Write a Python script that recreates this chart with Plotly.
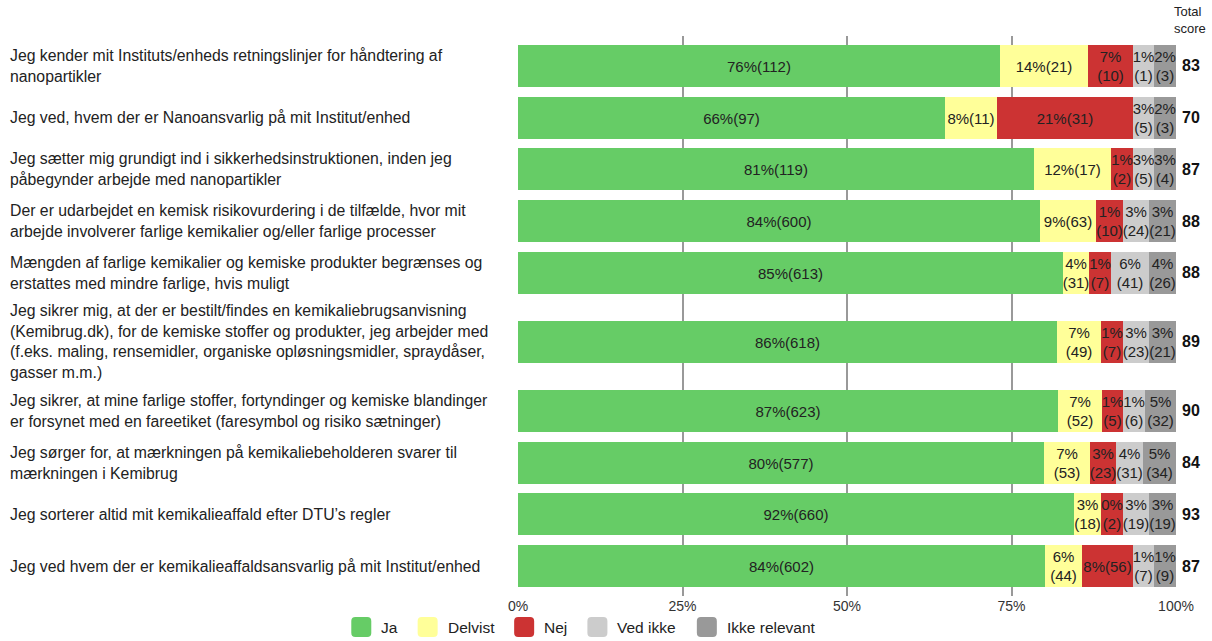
import plotly.graph_objects as go

# ---------------- data ----------------
questions = [
    "Jeg kender mit Instituts/enheds retningslinjer for håndtering af<br>nanopartikler",
    "Jeg ved, hvem der er Nanoansvarlig på mit Institut/enhed",
    "Jeg sætter mig grundigt ind i sikkerhedsinstruktionen, inden jeg<br>påbegynder arbejde med nanopartikler",
    "Der er udarbejdet en kemisk risikovurdering i de tilfælde, hvor mit<br>arbejde involverer farlige kemikalier og/eller farlige processer",
    "Mængden af farlige kemikalier og kemiske produkter begrænses og<br>erstattes med mindre farlige, hvis muligt",
    "Jeg sikrer mig, at der er bestilt/findes en kemikaliebrugsanvisning<br>(Kemibrug.dk), for de kemiske stoffer og produkter, jeg arbejder med<br>(f.eks. maling, rensemidler, organiske opløsningsmidler, spraydåser,<br>gasser m.m.)",
    "Jeg sikrer, at mine farlige stoffer, fortyndinger og kemiske blandinger<br>er forsynet med en fareetiket (faresymbol og risiko sætninger)",
    "Jeg sørger for, at mærkningen på kemikaliebeholderen svarer til<br>mærkningen i Kemibrug",
    "Jeg sorterer altid mit kemikalieaffald efter DTU’s regler",
    "Jeg ved hvem der er kemikalieaffaldsansvarlig på mit Institut/enhed",
]
categories = ["Ja", "Delvist", "Nej", "Ved ikke", "Ikke relevant"]
colors = ["#66cc66", "#ffff99", "#cc3333", "#cccccc", "#999999"]

ja_pct = [76, 66, 81, 84, 85, 86, 87, 80, 92, 84]
ja_n = [112, 97, 119, 600, 613, 618, 623, 577, 660, 602]
delvist_pct = [14, 8, 12, 9, 4, 7, 7, 7, 3, 6]
delvist_n = [21, 11, 17, 63, 31, 49, 52, 53, 18, 44]
nej_pct = [7, 21, 1, 1, 1, 1, 1, 3, 0, 8]
nej_n = [10, 31, 2, 10, 7, 7, 5, 23, 2, 56]
vedikke_pct = [1, 3, 3, 3, 6, 3, 1, 4, 3, 1]
vedikke_n = [1, 5, 5, 24, 41, 23, 6, 31, 19, 7]
ikke_pct = [2, 2, 3, 3, 4, 3, 5, 5, 3, 1]
ikke_n = [3, 3, 4, 21, 26, 21, 32, 34, 19, 9]
total_score = [83, 70, 87, 88, 88, 89, 90, 84, 93, 87]
tick_vals = [0, 25, 50, 75, 100]
tick_text = ["0%", "25%", "50%", "75%", "100%"]

# ---------------- layout helpers ----------------
FIG_W, FIG_H = 1212, 641
M_L, M_R, M_T, M_B = 518, 36, 36, 45
PW = FIG_W - M_L - M_R
PH = FIG_H - M_T - M_B
FONT = "Liberation Sans, Arial, sans-serif"
BAR_FS = 15
LBL_FS = 15.8
TXT = "#222222"

CW = {'%': 0.889, '(': 0.333, ')': 0.333, ' ': 0.278, 'a': .556, 'b': .556, 'c': .5,
      'd': .556, 'e': .556, 'f': .278, 'g': .556, 'h': .556, 'i': .222, 'j': .222,
      'k': .5, 'l': .222, 'm': .833, 'n': .556, 'o': .556, 'p': .556, 'r': .333,
      's': .5, 't': .278, 'u': .556, 'v': .5, 'D': .722, 'I': .278, 'J': .5,
      'N': .722, 'V': .667}


def tw(s, fs):
    return sum(CW.get(c, 0.556) for c in s) * fs


pct_cols = [ja_pct, delvist_pct, nej_pct, vedikke_pct, ikke_pct]
n_cols = [ja_n, delvist_n, nej_n, vedikke_n, ikke_n]
nrows = len(questions)

widths = [[0.0] * nrows for _ in categories]
texts = [[""] * nrows for _ in categories]
for r in range(nrows):
    pcts = [col[r] for col in pct_cols]
    ns = [col[r] for col in n_cols]
    mins = [max(tw(f"{p}%", BAR_FS), tw(f"({n})", BAR_FS)) / PW * 100 for p, n in zip(pcts, ns)]
    fixed = [False] * 5
    while True:
        free = 100 - sum(mins[i] for i in range(5) if fixed[i])
        tot = sum(pcts[i] for i in range(5) if not fixed[i])
        w = [mins[i] if fixed[i] else pcts[i] * free / tot for i in range(5)]
        newly = [i for i in range(5) if not fixed[i] and w[i] < mins[i] - 1e-9]
        if not newly:
            break
        for i in newly:
            fixed[i] = True
    for c in range(5):
        widths[c][r] = w[c]
        single = f"{pcts[c]}%({ns[c]})"
        if tw(single, BAR_FS) <= w[c] / 100 * PW:
            texts[c][r] = single
        else:
            texts[c][r] = f"{pcts[c]}%<br>({ns[c]})"

# row heights (in units of a normal row) from number of label lines
ROW_PX, LINE_PX = 52.0, 19.5
heights = [max(1.0, (q.count("<br>") + 1) * LINE_PX / ROW_PX + 9 / ROW_PX) for q in questions]
centers = []
acc = 0.0
for h in heights:
    centers.append(acc + h / 2)
    acc += h
YPAD = 0.08
y_range = [acc + YPAD, -YPAD]
BAR_W = 0.81

fig = go.Figure()
for c, cat in enumerate(categories):
    fig.add_trace(go.Bar(
        y=centers, x=widths[c], orientation="h", name=cat,
        width=BAR_W, marker=dict(color=colors[c], line=dict(width=0)),
        text=texts[c], textposition="inside", insidetextanchor="middle",
        textangle=0, textfont=dict(family=FONT, size=BAR_FS, color=TXT),
        hoverinfo="skip", showlegend=False,
    ))

annotations = []
for q, yc in zip(questions, centers):
    annotations.append(dict(
        text=q, xref="paper", yref="y", x=(8 - M_L) / PW, y=yc,
        xanchor="left", yanchor="middle", align="left", showarrow=False,
        font=dict(family=FONT, size=LBL_FS, color=TXT),
    ))
for s, yc in zip(total_score, centers):
    annotations.append(dict(
        text=f"<b>{s}</b>", xref="paper", yref="y", x=(1191 - M_L) / PW, y=yc,
        xanchor="center", yanchor="middle", showarrow=False,
        font=dict(family=FONT, size=16, color="#111111"),
    ))
annotations.append(dict(
    text="Total<br>score", xref="paper", yref="paper", x=(1172 - M_L) / PW,
    y=1 + (M_T - 2) / PH, xanchor="left", yanchor="top", align="left",
    showarrow=False, font=dict(family=FONT, size=13, color=TXT),
))

# manual legend
shapes = []
LEG_FS = 15.5
SW = 20
GAP_T = 8
GAP_I = 22
items_w = [SW + GAP_T + tw(cat, LEG_FS) for cat in categories]
total_w = sum(items_w) + GAP_I * (len(categories) - 1)
x0 = 582 - total_w / 2
leg_cy = 627


def px(x):
    return (x - M_L) / PW


def py(y):
    return (M_T + PH - y) / PH


for cat, col, iw in zip(categories, colors, items_w):
    xa, xb = x0, x0 + SW
    ya, yb = leg_cy - SW / 2, leg_cy + SW / 2
    rx, ry = 4 / PW, 4 / PH
    X0, X1, Y0, Y1 = px(xa), px(xb), py(yb), py(ya)
    path = (f"M{X0 + rx},{Y0} L{X1 - rx},{Y0} Q{X1},{Y0} {X1},{Y0 + ry} "
            f"L{X1},{Y1 - ry} Q{X1},{Y1} {X1 - rx},{Y1} L{X0 + rx},{Y1} "
            f"Q{X0},{Y1} {X0},{Y1 - ry} L{X0},{Y0 + ry} Q{X0},{Y0} {X0 + rx},{Y0} Z")
    shapes.append(dict(type="path", path=path, xref="paper", yref="paper",
                       fillcolor=col, line=dict(width=0), layer="above"))
    annotations.append(dict(
        text=cat, xref="paper", yref="paper", x=px(xb + GAP_T), y=py(leg_cy),
        xanchor="left", yanchor="middle", showarrow=False,
        font=dict(family=FONT, size=LEG_FS, color=TXT),
    ))
    x0 += iw + GAP_I

fig.update_layout(
    width=FIG_W, height=FIG_H,
    margin=dict(l=M_L, r=M_R, t=M_T, b=M_B, pad=0),
    barmode="stack", bargap=0,
    plot_bgcolor="white", paper_bgcolor="white",
    uniformtext=dict(minsize=BAR_FS, mode="show"),
    font=dict(family=FONT, color=TXT),
    xaxis=dict(range=[0, 100], tickvals=tick_vals, ticktext=tick_text,
               showgrid=True, gridcolor="#999999", gridwidth=2,
               zeroline=False, showline=False, ticks="", fixedrange=True,
               tickfont=dict(family=FONT, size=14, color="#333333")),
    yaxis=dict(range=y_range, showticklabels=False, showgrid=False,
               zeroline=False, showline=False, fixedrange=True),
    annotations=annotations, shapes=shapes, showlegend=False,
)

fig.write_html(
    "out.html",
    config={"displayModeBar": False},
    post_script="document.body.style.margin='0';document.body.style.overflow='hidden';",
)
